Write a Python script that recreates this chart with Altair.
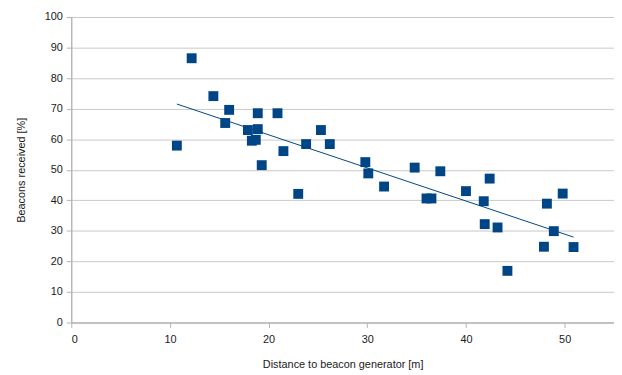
import altair as alt
import pandas as pd

distance = [10.7, 12.2, 14.4, 15.6, 16.0, 17.9, 18.3, 18.7, 18.9, 18.9, 19.3, 20.9,
            21.5, 23.0, 23.8, 25.3, 26.2, 29.8, 30.1, 31.7, 34.8, 36.0, 36.5, 37.4,
            40.0, 41.8, 41.9, 42.4, 43.2, 44.2, 47.9, 48.2, 48.9, 49.8, 50.9]
received = [57.9, 86.5, 74.1, 65.3, 69.6, 63.0, 59.5, 59.8, 68.5, 63.3, 51.5, 68.5,
            56.1, 42.1, 58.4, 63.0, 58.4, 52.5, 48.8, 44.5, 50.7, 40.6, 40.6, 49.5,
            43.0, 39.7, 32.2, 47.1, 31.1, 16.9, 24.8, 38.9, 29.9, 42.2, 24.7]
x_ticks = [0, 10, 20, 30, 40, 50]
y_ticks = [0, 10, 20, 30, 40, 50, 60, 70, 80, 90, 100]

df = pd.DataFrame({"d": distance, "r": received})
BLUE = "#004586"
FONT = "Liberation Sans"

x = alt.X("d:Q", scale=alt.Scale(domain=[0, 55], nice=False),
          axis=alt.Axis(values=x_ticks, title="Distance to beacon generator [m]",
                        grid=False, tickSize=5, labelPadding=6, titlePadding=15))
y = alt.Y("r:Q", scale=alt.Scale(domain=[0, 100], nice=False),
          axis=alt.Axis(values=y_ticks, title="Beacons received [%]",
                        grid=True, tickSize=5, labelPadding=4, titlePadding=18))

points = alt.Chart(df).mark_square(size=100, color=BLUE, opacity=1).encode(x=x, y=y)
trend = alt.Chart(df).transform_regression("d", "r").mark_line(
    color=BLUE, strokeWidth=1).encode(x=x, y=y)

chart = (trend + points).properties(
    width=549, height=309,
    autosize=alt.AutoSizeParams(type="none"),
    padding={"left": 64, "top": 7, "right": 0, "bottom": 50},
).configure_view(stroke="#b3b3b3", strokeWidth=1).configure_axis(
    domainColor="#b3b3b3", tickColor="#b3b3b3", gridColor="#c8c8c8",
    labelFont=FONT, titleFont=FONT, labelFontSize=11, titleFontSize=11,
    labelColor="#1a1a1a", titleColor="#1a1a1a", titleFontWeight="normal",
)

chart.save("out.html", embed_options={"renderer": "svg", "actions": False})
